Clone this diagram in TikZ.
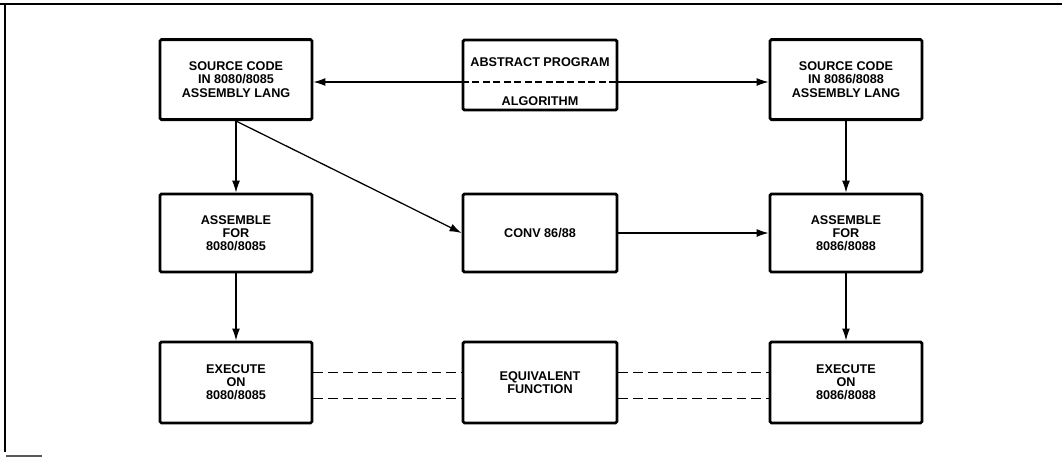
\documentclass[tikz,border=0pt]{standalone}
\usepackage{fontspec}
\setsansfont{Liberation Sans}
\usepackage{tikz}
\usetikzlibrary{arrows.meta, positioning, calc}
\tikzset{
  flowbox/.style={
    draw, line width=2pt, rounded corners=1pt, align=center,
    font=\sffamily\bfseries\fontsize{9}{9.4}\selectfont,
    fill=white, minimum width=3.8cm, minimum height=2cm
  },
  flowtext/.style={
    font=\sffamily\bfseries\fontsize{9}{9.4}\selectfont, inner sep=0pt
  },
  flowarrow/.style={
    -{Latex[length=3mm, width=2mm]}, line width=0.9pt
  },
  equivline/.style={
    line width=1.1pt, dash pattern=on 7pt off 3.5pt
  },
}
\begin{document}
\begin{tikzpicture}
  \useasboundingbox (0,0) rectangle (26.55,-11.425);

  % --- Frame ---
  \draw[line width=1.2pt] (0,-0.1) -- (26.55,-0.1);
  \draw[line width=1.2pt] (0.125,-0.1) -- (0.125,-11.3);
  \draw[line width=0.8pt, gray!70!black] (0.15,-11.4) -- (1.05,-11.4);

  % --- 8080/8085 side ---
  \node[flowbox] (srcA) at (5.9,-1.99)
    {SOURCE CODE\\IN 8080/8085\\ASSEMBLY LANG};
  \node[flowbox, minimum height=1.95cm] (asmA) at (5.9,-5.825)
    {ASSEMBLE\\FOR\\8080/8085};
  \node[flowbox, minimum height=2.025cm] (exeA) at (5.9,-9.56)
    {EXECUTE\\ON\\8080/8085};

  % --- Middle column ---
  \node[flowbox, minimum width=3.85cm, minimum height=1.75cm] (abstr)
    at (13.5,-1.875) {};
  \node[flowtext] (absTop) at (13.5,-1.55) {ABSTRACT PROGRAM};
  \node[flowtext] (absBot) at (13.5,-2.52) {ALGORITHM};
  \coordinate (splitL) at ($(abstr.west)+(0,-0.175)$);
  \coordinate (splitR) at ($(abstr.east)+(0,-0.175)$);
  \draw[line width=0.9pt, dash pattern=on 5pt off 2.5pt] (splitL) -- (splitR);

  \node[flowbox, minimum width=3.85cm, minimum height=1.95cm] (conv)
    at (13.5,-5.825) {CONV 86/88};
  \node[flowbox, minimum width=3.85cm, minimum height=2.025cm] (equiv)
    at (13.5,-9.56) {EQUIVALENT\\FUNCTION};

  % --- 8086/8088 side ---
  \node[flowbox] (srcB) at (21.15,-1.99)
    {SOURCE CODE\\IN 8086/8088\\ASSEMBLY LANG};
  \node[flowbox, minimum height=1.95cm] (asmB) at (21.15,-5.825)
    {ASSEMBLE\\FOR\\8086/8088};
  \node[flowbox, minimum height=2.025cm] (exeB) at (21.15,-9.56)
    {EXECUTE\\ON\\8086/8088};

  % Arrows
  \draw[flowarrow] (splitL) -- (splitL -| srcA.east);
  \draw[flowarrow] (splitR) -- (splitR -| srcB.west);
  \draw[flowarrow] (srcA.south) -- (asmA.north);
  \draw[flowarrow] (srcA.south) -- (conv.west);
  \draw[flowarrow] (asmA.south) -- (exeA.north);
  \draw[flowarrow] (conv.east) -- (asmB.west);
  \draw[flowarrow] (srcB.south) -- (asmB.north);
  \draw[flowarrow] (asmB.south) -- (exeB.north);

  % Equivalence
  \draw[equivline] ([yshift=0.25cm]exeA.east) -- ([yshift=0.25cm]equiv.west);
  \draw[equivline] ([yshift=-0.4cm]exeA.east) -- ([yshift=-0.4cm]equiv.west);
  \draw[equivline] ([yshift=0.25cm]equiv.east) -- ([yshift=0.25cm]exeB.west);
  \draw[equivline] ([yshift=-0.4cm]equiv.east) -- ([yshift=-0.4cm]exeB.west);
\end{tikzpicture}
\end{document}
